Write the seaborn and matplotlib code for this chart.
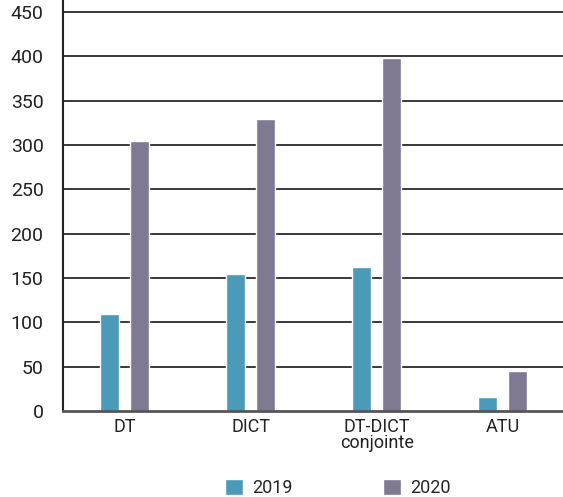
import matplotlib
matplotlib.use("Agg")
import matplotlib.pyplot as plt
import seaborn as sns
import pandas as pd
from matplotlib.patches import Patch

categories = ["DT", "DICT", "DT-DICT\nconjointe", "ATU"]
values_2019 = [110, 155, 162, 16]
values_2020 = [305, 330, 398, 45]
years = ["2019", "2020"]
colors = ["#4a9ab8", "#7f7a92"]
yticks = [0, 50, 100, 150, 200, 250, 300, 350, 400, 450]

sns.set_style("white")
plt.rcParams["font.family"] = ["Roboto", "DejaVu Sans"]

df = pd.DataFrame({
    "cat": categories * 2,
    "year": [years[0]] * 4 + [years[1]] * 4,
    "val": values_2019 + values_2020,
})

fig = plt.figure(figsize=(5.63, 4.97), dpi=100)
ax = fig.add_axes([0.112, 0.173, 0.888, 0.84])

for y in yticks[1:]:
    ax.axhline(y, color="#2a2a2a", lw=1.3, zorder=0)

sns.barplot(data=df, x="cat", y="val", hue="year", palette=colors,
            width=0.47, gap=0.36, ax=ax, legend=False, zorder=2,
            saturation=1)

ax.set_xlim(-0.49, 3.48)
ax.set_ylim(0, 471)
ax.set_yticks(yticks)
ax.set_yticklabels([str(v) for v in yticks], fontsize=14, color="#222222")
ax.set_xticks(range(len(categories)))
ax.set_xticklabels(categories, fontsize=13, color="#222222", linespacing=0.85)
ax.tick_params(axis="x", length=0, pad=5)
ax.tick_params(axis="y", length=0, pad=14)
ax.set_xticks([0.5, 1.5, 2.5], minor=True)
ax.tick_params(axis="x", which="minor", length=4, width=2, color="#333333", direction="inout")
ax.set_xlabel("")
ax.set_ylabel("")

for s in ["top", "right"]:
    ax.spines[s].set_visible(False)
ax.spines["left"].set_color("#222222")
ax.spines["left"].set_linewidth(1.5)
ax.spines["bottom"].set_color("#555555")
ax.spines["bottom"].set_linewidth(2)

handles = [Patch(facecolor=c, label=y) for c, y in zip(colors, years)]
fig.legend(handles=handles, loc="center", bbox_to_anchor=(0.6, 0.018), ncol=2,
           frameon=False, fontsize=13, handlelength=1.0, handleheight=1.0,
           columnspacing=5.0, handletextpad=0.5)

fig.savefig("out.png", dpi=100)
